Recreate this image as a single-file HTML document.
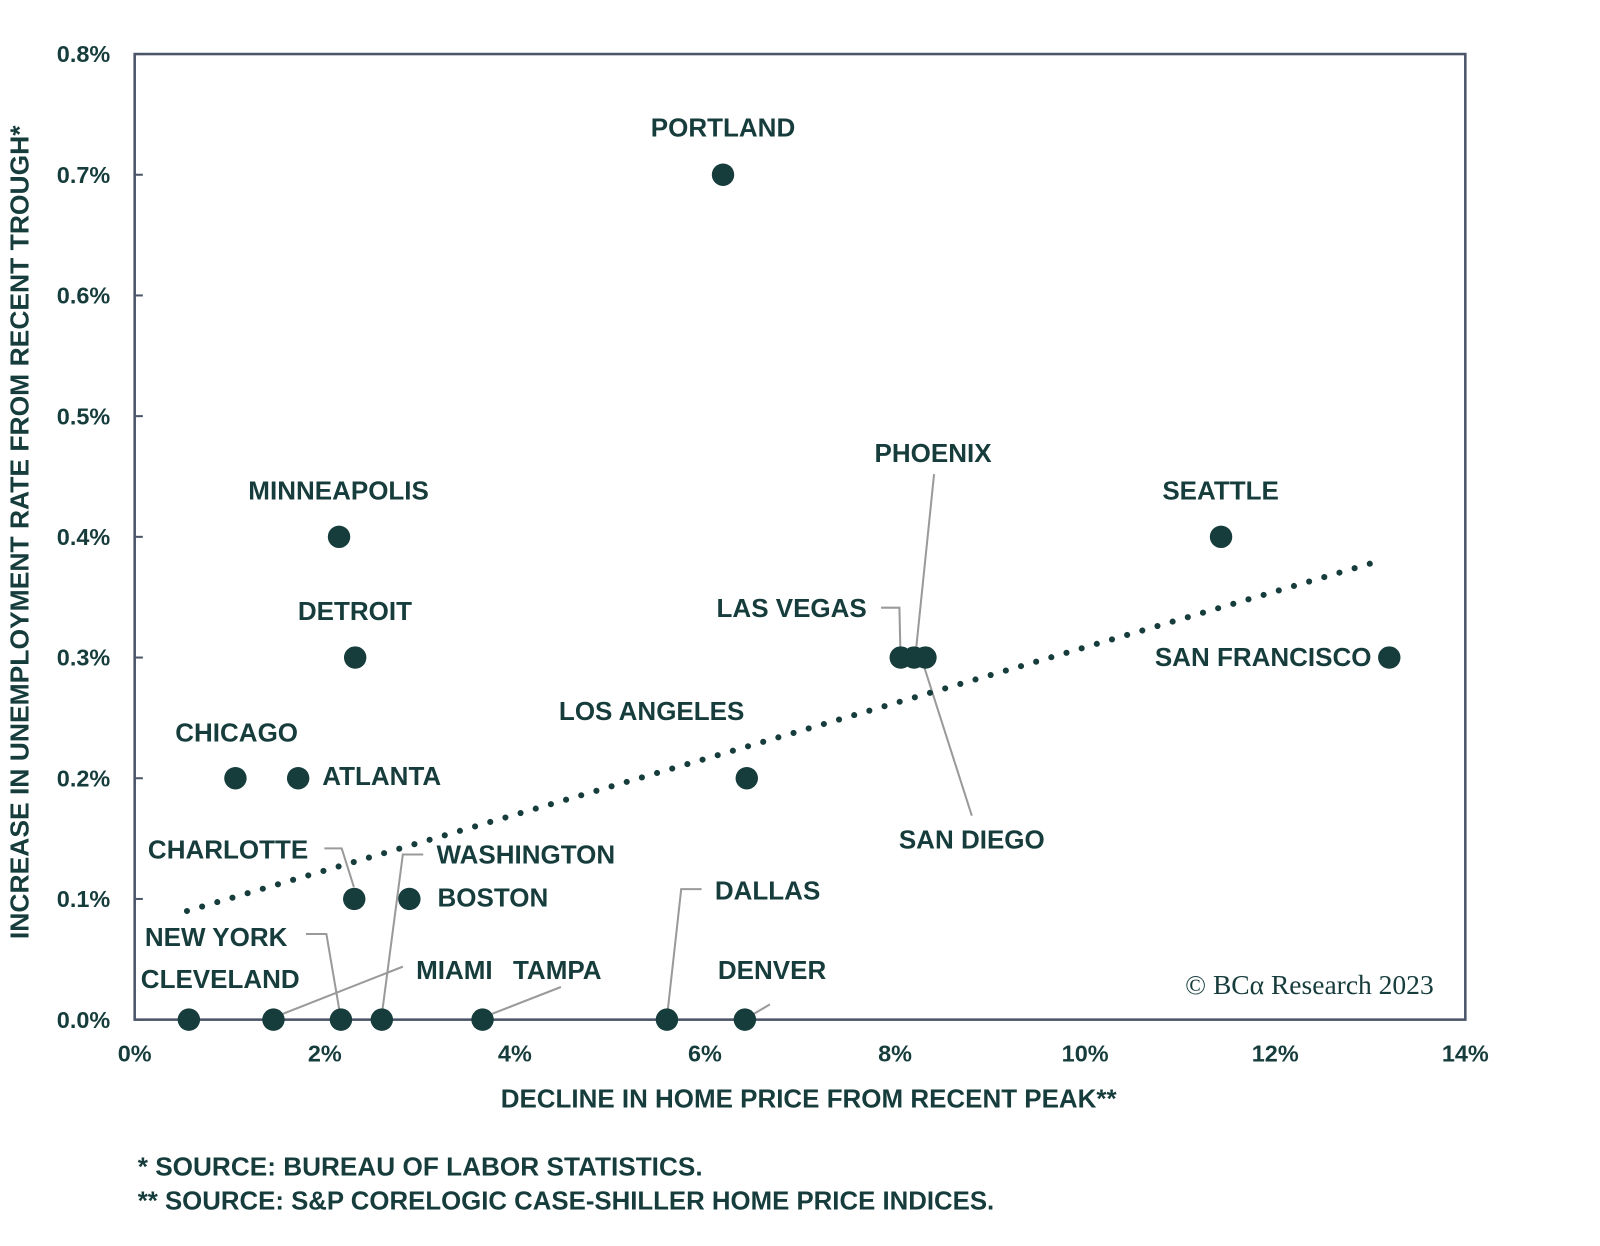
<!DOCTYPE html>
<html><head><meta charset="utf-8"><style>
html,body{margin:0;padding:0;background:#fff;width:1600px;height:1246px;overflow:hidden}
svg{display:block}
text{font-family:"Liberation Sans",Arial,sans-serif;font-weight:bold;fill:#163c3c}
</style></head><body>
<svg id="chart" width="1600" height="1246" viewBox="0 0 1569 1222" xmlns="http://www.w3.org/2000/svg">
<g id="axes"></g><g id="leaders"></g><g id="trend"></g><g id="points"></g><g id="labels"></g>
<text x="1406" y="975" text-anchor="end" style="font-family:'Liberation Serif',serif;font-weight:normal;font-size:27px">© BCα Research 2023</text>
<text x="793" y="1086" text-anchor="middle" font-size="25.5" textLength="604" lengthAdjust="spacingAndGlyphs">DECLINE IN HOME PRICE FROM RECENT PEAK**</text>
<text transform="translate(28,522) rotate(-90)" text-anchor="middle" font-size="25.5" textLength="798" lengthAdjust="spacingAndGlyphs">INCREASE IN UNEMPLOYMENT RATE FROM RECENT TROUGH*</text>
<text x="135" y="1153" font-size="25.5" textLength="554" lengthAdjust="spacingAndGlyphs">*  SOURCE: BUREAU OF LABOR STATISTICS.</text>
<text x="135" y="1186" font-size="25.5" textLength="840" lengthAdjust="spacingAndGlyphs">** SOURCE: S&amp;P CORELOGIC CASE-SHILLER HOME PRICE INDICES.</text>
</svg>
<script>
const cities = ["PORTLAND","MINNEAPOLIS","DETROIT","CHICAGO","ATLANTA","CHARLOTTE","BOSTON","CLEVELAND","MIAMI","NEW YORK","WASHINGTON","TAMPA","DALLAS","DENVER","LOS ANGELES","LAS VEGAS","PHOENIX","SAN DIEGO","SEATTLE","SAN FRANCISCO"];
const homeDecline = [6.19,2.15,2.32,1.06,1.72,2.31,2.89,0.57,1.46,2.17,2.6,3.66,5.6,6.42,6.44,8.06,8.2,8.32,11.43,13.2];
const unempRise = [0.7,0.4,0.3,0.2,0.2,0.1,0.1,0,0,0,0,0,0,0,0.2,0.3,0.3,0.3,0.4,0.3];
const xTicks = [0,2,4,6,8,10,12,14];
const yTicks = [0,0.1,0.2,0.3,0.4,0.5,0.6,0.7,0.8];
const trendX = [0.55,13.05];
const trendY = [0.09,0.379];

const NS="http://www.w3.org/2000/svg";
const L=132,R=1437,T=53,B=1000;
const xs=v=>L+(v-0)/(14-0)*(R-L);
const ys=v=>B-(v-0)/(0.8-0)*(B-T);
function mk(tag,attrs,parent){const e=document.createElementNS(NS,tag);for(const k in attrs)e.setAttribute(k,attrs[k]);document.getElementById(parent).appendChild(e);return e;}

const frame=mk('rect',{x:L,y:T,width:R-L,height:B-T,fill:'none',stroke:'#4b5568','stroke-width':2.5},'axes');


xTicks.forEach(t=>{
  const tx=mk('text',{x:xs(t),y:1041,'text-anchor':'middle','font-size':23},'axes');
  tx.textContent=t+'%';
  
  
});
yTicks.forEach(t=>{
  const tx=mk('text',{x:108,y:ys(t)+8,'text-anchor':'end','font-size':23},'axes');
  tx.textContent=t.toFixed(1)+'%';
  
  
  const tk=mk('line',{x1:L,x2:L+8,y1:ys(t),y2:ys(t),stroke:'#4b5568','stroke-width':2},'axes');
  
  
});
const tl=mk('line',{x1:xs(trendX[0]),y1:ys(trendY[0]),x2:xs(trendX[1]),y2:ys(trendY[1]),stroke:'#163c3c','stroke-width':6,'stroke-linecap':'round','stroke-dasharray':'0 15.5'},'trend');



cities.forEach((c,i)=>{
  const p=mk('circle',{cx:xs(homeDecline[i]),cy:ys(unempRise[i]),r:11,fill:'#163c3c'},'points');
  
  
});

const labels=[
 ["PORTLAND",709,134,"middle"],["MINNEAPOLIS",332,490,"middle"],["DETROIT",348,608,"middle"],
 ["CHICAGO",232,727,"middle"],["ATLANTA",316,770,"start"],["CHARLOTTE",145,842,"start"],
 ["WASHINGTON",428,847,"start"],["BOSTON",429,889,"start"],["NEW YORK",142,928,"start"],
 ["CLEVELAND",138,969,"start"],["MIAMI",408,960,"start"],["TAMPA",503,960,"start"],
 ["DALLAS",701,882,"start"],["DENVER",704,960,"start"],["LAS VEGAS",850,605,"end"],
 ["PHOENIX",915,453,"middle"],["SEATTLE",1197,490,"middle"],["SAN FRANCISCO",1345,653,"end"],
 ["LOS ANGELES",639,706,"middle"],["SAN DIEGO",953,832,"middle"]];
labels.forEach(l=>{
  const t=mk('text',{x:l[1],y:l[2],'text-anchor':l[3],'font-size':25.5},'labels');
  t.textContent=l[0];
  
  
});
const leaders=["318,832 335,832 347,870","415,838 395,838 374,998","395,948 268,998","300,916 320,916 334,998",
 "550,968 473,998","688,872 668,872 654,998","755,985 733,998","864,596 882,596 883,640","916,465 898,640","953,800 905,650"];
leaders.forEach(pt=>{
  const pl=mk('polyline',{points:pt,fill:'none',stroke:'#9a9a9a','stroke-width':2},'leaders');
  
  
});
</script>
</body></html>
